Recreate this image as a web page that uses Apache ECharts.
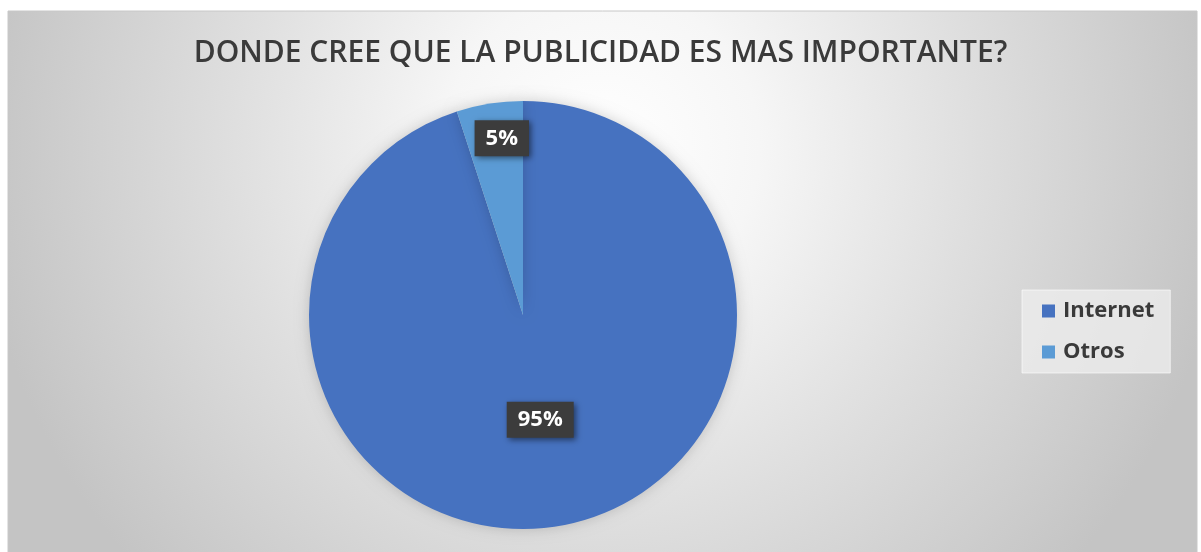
<!DOCTYPE html>
<html>
<head>
<meta charset="utf-8">
<script src="https://cdn.jsdelivr.net/npm/echarts@6/dist/echarts.min.js"></script>
<style>
html,body{margin:0;padding:0;background:#fff;}
#chart{width:1201px;height:552px;}
</style>
</head>
<body>
<div id="chart"></div>
<script>
const titleText = 'DONDE CREE QUE LA PUBLICIDAD ES MAS IMPORTANTE?';
const categories = ['Internet', 'Otros'];
const values = [95, 5];
const colors = ['#4672c0', '#5b9bd5'];

const chart = echarts.init(document.getElementById('chart'), null, {renderer: 'canvas'});
const option = {
  animation: false,
  graphic: [
    {
      type: 'rect', z: -10, silent: true,
      shape: {x: 8, y: 11, width: 1189, height: 545},
      style: {
        fill: new echarts.graphic.RadialGradient(0.5, 0.25, 1.15, [
          {offset: 0, color: '#ffffff'},
          {offset: 0.25, color: '#f6f6f6'},
          {offset: 0.6, color: '#dedede'},
          {offset: 1, color: '#c4c4c4'}
        ]),
        stroke: '#c8c8c8', lineWidth: 1
      }
    }
  ],
  title: {
    text: titleText,
    left: 'center',
    top: 33,
    textStyle: {
      fontFamily: 'Open Sans',
      fontSize: 30,
      fontWeight: 600,
      color: '#3a3a3a'
    }
  },
  legend: {
    orient: 'vertical',
    left: 1022,
    top: 290,
    data: categories,
    itemWidth: 13,
    itemHeight: 13,
    itemGap: 19,
    padding: [10, 16, 10, 20],
    backgroundColor: 'rgba(236,236,236,0.8)',
    borderColor: 'rgba(255,255,255,0.6)',
    borderWidth: 1,
    icon: 'rect',
    textStyle: {
      fontFamily: 'Open Sans',
      fontSize: 22,
      fontWeight: 700,
      color: '#3a3a3a',
      padding: [0, 0, 0, 3]
    }
  },
  series: [{
    type: 'pie',
    center: [523, 315],
    radius: 214,
    startAngle: 90,
    clockwise: true,
    data: categories.map((c, i) => ({name: c, value: values[i], itemStyle: {color: colors[i]}})),
    itemStyle: {
      shadowBlur: 14,
      shadowColor: 'rgba(0,0,0,0.18)'
    },
    label: {
      show: true,
      position: 'inside',
      formatter: p => Math.round(p.percent) + '%',
      fontFamily: 'Open Sans',
      fontSize: 22,
      fontWeight: 700,
      color: '#ffffff',
      backgroundColor: '#3c3c3c',
      padding: [8, 11, 6, 11],
      shadowBlur: 6,
      shadowColor: 'rgba(0,0,0,0.5)',
      shadowOffsetX: 2,
      shadowOffsetY: 2
    },
    labelLine: {show: false},
    labelLayout: function (p) {
      return p.dataIndex === 1 ? {dx: -4, dy: -68} : {dy: -4};
    },
    emphasis: {disabled: true}
  }]
};
chart.setOption(option);
</script>
</body>
</html>
